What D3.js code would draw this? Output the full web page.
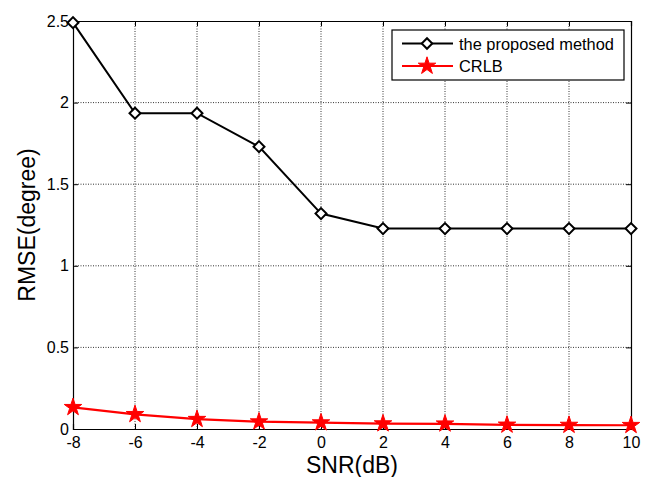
<!DOCTYPE html>
<html>
<head>
<meta charset="utf-8">
<script src="https://cdn.jsdelivr.net/npm/d3@7"></script>
<style>
  body { margin: 0; background: #fff; }
  svg { display: block; font-family: Arial, "Liberation Sans", sans-serif; }
</style>
</head>
<body>
<svg id="chart" width="652" height="477"></svg>
<script>
// SNR values (dB)
const snr = [-8, -6, -4, -2, 0, 2, 4, 6, 8, 10];
// RMSE of the proposed method (degree)
const proposed = [2.49, 1.935, 1.935, 1.73, 1.32, 1.228, 1.228, 1.228, 1.228, 1.228];
// CRLB (degree)
const crlb = [0.133, 0.09, 0.06, 0.045, 0.039, 0.033, 0.032, 0.025, 0.024, 0.023];
const xTicks = [-8, -6, -4, -2, 0, 2, 4, 6, 8, 10];
const yTicks = [0, 0.5, 1, 1.5, 2, 2.5];
const seriesNames = ["the proposed method", "CRLB"];

const margin = { top: 21, right: 21, bottom: 48, left: 73 };
const W = 652, H = 477;
const width = W - margin.left - margin.right;
const height = H - margin.top - margin.bottom;

const svg = d3.select("#chart");
const g = svg.append("g").attr("transform", `translate(${margin.left},${margin.top})`);

const x = d3.scaleLinear().domain([-8, 10]).range([0, width]);
const y = d3.scaleLinear().domain([0, 2.5]).range([height, 0]);

// grid (dotted)
g.append("g").selectAll("line")
  .data(xTicks.slice(1, -1)).enter().append("line")
  .attr("x1", d => x(d)).attr("x2", d => x(d))
  .attr("y1", 0).attr("y2", height)
  .attr("stroke", "#000").attr("stroke-width", 0.8).attr("stroke-dasharray", "1,1.5");
g.append("g").selectAll("line")
  .data(yTicks.slice(1, -1)).enter().append("line")
  .attr("y1", d => y(d)).attr("y2", d => y(d))
  .attr("x1", 0).attr("x2", width)
  .attr("stroke", "#000").attr("stroke-width", 0.8).attr("stroke-dasharray", "1,1.5");

// axes
const xAxis = g.append("g").attr("transform", `translate(0,${height})`)
  .call(d3.axisBottom(x).tickValues(xTicks).tickSize(-5).tickPadding(8).tickFormat(d => String(d)));
const yAxis = g.append("g")
  .call(d3.axisLeft(y).tickValues(yTicks).tickSize(-5).tickPadding(4).tickFormat(d => String(d)));
const xTop = g.append("g")
  .call(d3.axisTop(x).tickValues(xTicks).tickSize(-5).tickFormat(""));
const yRight = g.append("g").attr("transform", `translate(${width},0)`)
  .call(d3.axisRight(y).tickValues(yTicks).tickSize(-5).tickFormat(""));

[xAxis, yAxis, xTop, yRight].forEach(a => {
  a.select(".domain").attr("stroke", "#000").attr("stroke-width", 1.2);
  a.selectAll(".tick line").attr("stroke", "#000");
  a.selectAll(".tick text").attr("fill", "#000").style("font-size", "16px")
    .style("font-family", "Arial, 'Liberation Sans', sans-serif");
});

// lines
const line = d3.line().x((d, i) => x(snr[i])).y(d => y(d));

g.append("path").datum(proposed)
  .attr("fill", "none").attr("stroke", "#000").attr("stroke-width", 2)
  .attr("d", line);

g.append("path").datum(crlb)
  .attr("fill", "none").attr("stroke", "#ff0000").attr("stroke-width", 2.2)
  .attr("d", line);

const star = d3.symbol().type(d3.symbolStar).size(95);

g.append("g").selectAll("path")
  .data(proposed).enter().append("path")
  .attr("transform", (d, i) => `translate(${x(snr[i])},${y(d)}) rotate(45)`)
  .attr("d", d3.symbol().type(d3.symbolSquare).size(60))
  .attr("fill", "#fff").attr("stroke", "#000").attr("stroke-width", 2);

g.append("g").selectAll("path")
  .data(crlb).enter().append("path")
  .attr("transform", (d, i) => `translate(${x(snr[i])},${y(d)})`)
  .attr("d", star)
  .attr("fill", "#ff0000").attr("stroke", "#ff0000").attr("stroke-width", 1);

// axis titles
svg.append("text")
  .attr("x", margin.left + width / 2).attr("y", 473)
  .attr("text-anchor", "middle").style("font-size", "23px").attr("fill", "#000")
  .text("SNR(dB)");
svg.append("text")
  .attr("transform", `translate(35,${margin.top + height / 2}) rotate(-90)`)
  .attr("text-anchor", "middle").style("font-size", "23px").attr("fill", "#000")
  .text("RMSE(degree)");

// legend
const lg = svg.append("g").attr("transform", "translate(392,30)");
lg.append("rect").attr("width", 232).attr("height", 50)
  .attr("fill", "#fff").attr("stroke", "#000").attr("stroke-width", 1.2);
const legendRows = [
  { name: seriesNames[0], color: "#000", y: 13.5 },
  { name: seriesNames[1], color: "#ff0000", y: 36 }
];
legendRows.forEach((r, i) => {
  lg.append("line").attr("x1", 10).attr("x2", 61).attr("y1", r.y).attr("y2", r.y)
    .attr("stroke", r.color).attr("stroke-width", 2);
  if (i === 0) {
    lg.append("path").attr("transform", `translate(35,${r.y}) rotate(45)`)
      .attr("d", d3.symbol().type(d3.symbolSquare).size(55))
      .attr("fill", "#fff").attr("stroke", "#000").attr("stroke-width", 2);
  } else {
    lg.append("path").attr("transform", `translate(35,${r.y})`)
      .attr("d", star).attr("fill", "#ff0000").attr("stroke", "#ff0000");
  }
  lg.append("text").attr("x", 67).attr("y", r.y + 6)
    .style("font-size", "16.4px").attr("fill", "#000").text(r.name);
});
</script>
</body>
</html>
